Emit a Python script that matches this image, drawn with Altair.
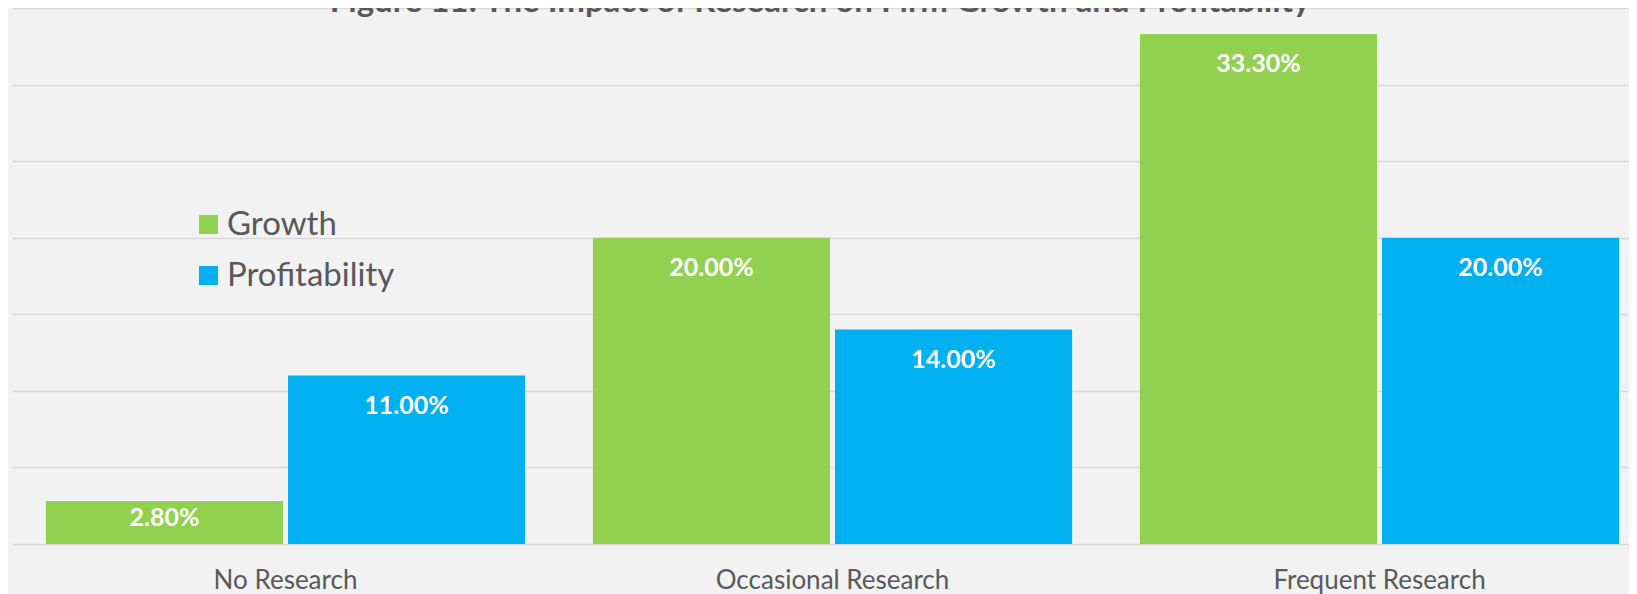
import altair as alt
import pandas as pd

# ---- data ----
categories = ["No Research", "Occasional Research", "Frequent Research"]
series = ["Growth", "Profitability"]
growth = [2.8, 20.0, 33.3]
profitability = [11.0, 14.0, 20.0]
colors = ["#92D050", "#00B0F0"]
y_ticks = [0, 5, 10, 15, 20, 25, 30, 35]
title_text = "Figure 11: The Impact of Research on Firm Growth and Profitability"

rows = []
for c, g, p in zip(categories, growth, profitability):
    rows.append({"category": c, "series": series[0], "value": g})
    rows.append({"category": c, "series": series[1], "value": p})
df = pd.DataFrame(rows)

TXT = "#595959"
FONT = "Lato"

x_enc = alt.X(
    "category:N", sort=categories, title=None,
    scale=alt.Scale(range=[0, 1641], paddingInner=0.124, paddingOuter=0.062),
    axis=alt.Axis(labelAngle=0, ticks=False, domain=False, labelPadding=23,
                  labelFontSize=26, labelColor=TXT, labelFont=FONT, grid=False,
                  labelLimit=0),
)
xo_enc = alt.XOffset("series:N", sort=series,
                     scale=alt.Scale(paddingInner=0.0207, paddingOuter=0))
y_scale = alt.Scale(domain=[0, 35], nice=False)

bars = alt.Chart(df).mark_bar().encode(
    x=x_enc,
    xOffset=xo_enc,
    y=alt.Y("value:Q", scale=y_scale, title=None,
            axis=alt.Axis(values=y_ticks, labels=False, ticks=False, domain=False,
                          grid=True, gridColor="#D9D9D9", gridWidth=1.5)),
    color=alt.Color("series:N", sort=series,
                    scale=alt.Scale(domain=series, range=colors),
                    legend=alt.Legend(title=None, orient="none", legendX=180, legendY=200,
                                      symbolType="square", symbolSize=361,
                                      labelFontSize=33, labelFont=FONT, labelColor=TXT,
                                      rowPadding=17, labelOffset=2, labelLimit=0,
                                      symbolStrokeWidth=0, direction="vertical")),
)

labels = alt.Chart(df).transform_calculate(
    label="format(datum.value, '.2f') + '%'",
    pos="datum.value - min(1.97, datum.value * 0.4)",
).mark_text(font=FONT, fontWeight="bold", fontSize=25, color="white",
            baseline="middle", align="center").encode(
    x=x_enc,
    xOffset=xo_enc,
    y=alt.Y("pos:Q", scale=y_scale),
    text="label:N",
)

title_mark = alt.Chart(pd.DataFrame({"t": [title_text]})).mark_text(
    font=FONT, fontWeight="bold", fontSize=33, color=TXT,
    baseline="alphabetic", align="center",
).encode(x=alt.value(808), y=alt.value(4), text="t:N")

chart = alt.layer(bars, labels, title_mark).properties(
    width=1617, height=536,
    background="#F2F2F2",
    padding={"left": 4, "top": 0, "right": 0, "bottom": 50},
    autosize=alt.AutoSizeParams(type="none"),
).configure_view(stroke=None)

chart.save("out.html", embed_options={"renderer": "svg", "actions": False})
